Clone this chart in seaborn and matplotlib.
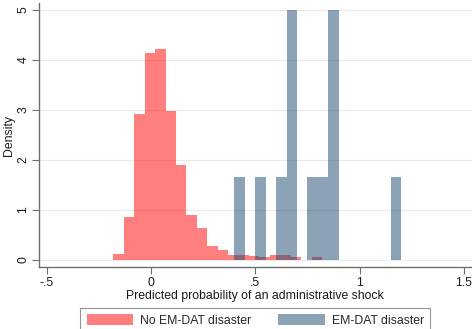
import numpy as np
import matplotlib
matplotlib.use("Agg")
import matplotlib.pyplot as plt
from matplotlib.patches import Patch
import seaborn as sns

# Histogram bins (width 0.05) and densities for each group
no_disaster_edges = [-0.18 + 0.05 * i for i in range(21)]
no_disaster_density = [0.12, 0.87, 2.91, 4.13, 4.22, 2.98, 1.91, 0.90, 0.65, 0.29,
                       0.19, 0.10, 0.11, 0.09, 0.06, 0.11, 0.10, 0.05, 0.0, 0.05]

disaster_edges = [0.40 + 0.05 * i for i in range(17)]
disaster_density = [1.667, 0.0, 1.667, 0.0, 1.667, 5.0, 0.0, 1.667,
                    1.667, 5.0, 0.0, 0.0, 0.0, 0.0, 0.0, 1.667]

x_ticks = [-0.5, 0, 0.5, 1, 1.5]
x_tick_labels = ["-.5", "0", ".5", "1", "1.5"]
y_ticks = [0, 1, 2, 3, 4, 5]

labels = ["No EM-DAT disaster", "EM-DAT disaster"]
red = (1.0, 0.0, 0.0)
navy = (26 / 255, 71 / 255, 111 / 255)

sns.set_theme(style="white")
plt.rcParams["font.family"] = ["Liberation Sans", "DejaVu Sans"]
FS = 8.8

fig = plt.figure(figsize=(4.72, 3.29), dpi=100)
ax = fig.add_axes([39 / 472, 1 - 267 / 329, (471.5 - 39) / 472, (267 - 3) / 329])

def centers(edges):
    e = np.asarray(edges)
    return (e[:-1] + e[1:]) / 2

sns.histplot(x=centers(no_disaster_edges), weights=no_disaster_density,
             bins=no_disaster_edges, stat="count", color=red, alpha=0.5,
             linewidth=0, ax=ax, zorder=2)
sns.histplot(x=centers(disaster_edges), weights=disaster_density,
             bins=disaster_edges, stat="count", color=navy, alpha=0.5,
             linewidth=0, ax=ax, zorder=3)

ax.set_xlim(-0.537, 1.537)
ax.set_ylim(-0.14, 5.14)
ax.set_xticks(x_ticks)
ax.set_xticklabels(x_tick_labels)
ax.set_yticks(y_ticks)
ax.set_yticklabels([str(v) for v in y_ticks], rotation=90, va="center")

for v in y_ticks:
    ax.axhline(v, color="#eaeaea", linewidth=0.8, zorder=1)

for side in ["top", "right"]:
    ax.spines[side].set_visible(False)
for side in ["left", "bottom"]:
    ax.spines[side].set_color("#6e6e6e")
    ax.spines[side].set_linewidth(1.0)

ax.tick_params(axis="both", which="major", direction="out", length=5, width=0.8,
               color="#6e6e6e", labelsize=FS, labelcolor="#1a1a1a", pad=2,
               bottom=True, left=True)
ax.set_xlabel("Predicted probability of an administrative shock", fontsize=FS,
              color="#1a1a1a", labelpad=1)
ax.set_ylabel("Density", fontsize=FS, color="#1a1a1a")
ax.yaxis.set_label_coords(-0.056, 0.5)

handles = [Patch(facecolor=red, alpha=0.5, edgecolor="none"),
           Patch(facecolor=navy, alpha=0.5, edgecolor="none")]
leg = fig.legend(handles, labels, loc="upper center", ncol=2,
                 bbox_to_anchor=(0.541, 1 - 308 / 329), bbox_transform=fig.transFigure,
                 fontsize=FS, frameon=True, fancybox=False, handlelength=3.8,
                 handleheight=1.0, handletextpad=0.6, columnspacing=2.2,
                 borderpad=0.5, borderaxespad=0)
leg.get_frame().set_edgecolor("#7a7a7a")
leg.get_frame().set_linewidth(0.8)

fig.savefig("out.png", dpi=100)
